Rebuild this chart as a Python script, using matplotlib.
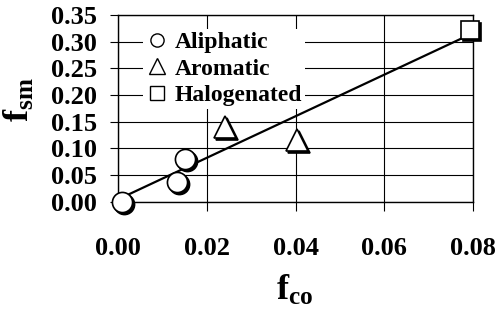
import matplotlib
matplotlib.use("Agg")
import matplotlib.pyplot as plt
from matplotlib.lines import Line2D
from matplotlib.transforms import offset_copy

plt.rcParams['font.family'] = ['Liberation Serif', 'DejaVu Serif']
plt.rcParams['font.weight'] = 'bold'
plt.rcParams['mathtext.fontset'] = 'custom'
plt.rcParams['mathtext.rm'] = 'Liberation Serif:bold'
plt.rcParams['mathtext.bf'] = 'Liberation Serif:bold'
plt.rcParams['mathtext.it'] = 'Liberation Serif:bold'

# data
aliphatic_x = [0.001, 0.0132, 0.0151]
aliphatic_y = [0.000, 0.0375, 0.080]
aromatic_x = [0.0241, 0.0403]
aromatic_y = [0.140, 0.115]
halogen_x = [0.0792]
halogen_y = [0.322]
fit_x = [0.001, 0.0797]
fit_y = [0.008, 0.315]
xticks = [0.00, 0.02, 0.04, 0.06, 0.08]
yticks = [0.00, 0.05, 0.10, 0.15, 0.20, 0.25, 0.30, 0.35]

fig = plt.figure(figsize=(4.98, 3.13), dpi=100)
ax = fig.add_axes([0.237, 0.356, 0.713, 0.596])
ax.set_xlim(0, 0.08)
ax.set_ylim(0, 0.35)
ax.set_xticks(xticks)
ax.set_yticks(yticks)
ax.set_xticklabels([f"{v:.2f}" for v in xticks])
ax.set_yticklabels([f"{v:.2f}" for v in yticks])
ax.grid(True, color='black', linewidth=0.8)
ax.set_axisbelow(True)
for s in ax.spines.values():
    s.set_linewidth(1.0)
ax.tick_params(axis='both', labelsize=19, direction='out', width=0.8)
ax.tick_params(axis='y', length=6, pad=9)
ax.tick_params(axis='x', length=6.5, pad=19)
for lab in ax.get_xticklabels() + ax.get_yticklabels():
    lab.set_fontweight('bold')

ax.plot(fit_x, fit_y, color='black', linewidth=1.6, zorder=3)

shadow = offset_copy(ax.transData, fig=fig, x=2, y=-2, units='dots')
ms = 14.5
for xs, ys, m, size in [(aliphatic_x, aliphatic_y, 'o', ms), (aromatic_x, aromatic_y, '^', ms + 2), (halogen_x, halogen_y, 's', ms - 1)]:
    ax.plot(xs, ys, linestyle='none', marker=m, markersize=size, markerfacecolor='black',
            markeredgecolor='black', markeredgewidth=1.2, transform=shadow, zorder=4, clip_on=False)
    ax.plot(xs, ys, linestyle='none', marker=m, markersize=size, markerfacecolor='white',
            markeredgecolor='black', markeredgewidth=1.2, zorder=5, clip_on=False)

handles = [
    Line2D([], [], linestyle='none', marker='o', markersize=9.5, markerfacecolor='white', markeredgecolor='black', markeredgewidth=1.0),
    Line2D([], [], linestyle='none', marker='^', markersize=11, markerfacecolor='white', markeredgecolor='black', markeredgewidth=1.0),
    Line2D([], [], linestyle='none', marker='s', markersize=9.5, markerfacecolor='white', markeredgecolor='black', markeredgewidth=1.0),
]
leg = ax.legend(handles, ['Aliphatic', 'Aromatic', 'Halogenated'], loc='upper left',
                bbox_to_anchor=(143 / 498, 1 - 29 / 313), bbox_transform=fig.transFigure,
                frameon=True, fancybox=False, edgecolor='none', facecolor='white', framealpha=1,
                prop={'size': 17, 'weight': 'bold'}, handlelength=1.0, handletextpad=0.25,
                labelspacing=0.22, borderpad=0.1, borderaxespad=0)
leg.set_zorder(6)

ax.set_xlabel(r'$\mathrm{f_{co}}$', fontsize=26)
ax.set_ylabel(r'$\mathrm{f_{sm}}$', fontsize=26)
ax.xaxis.set_label_coords(295 / 498, 1 - 274 / 313, transform=fig.transFigure)
ax.yaxis.set_label_coords(37 / 498, 1 - 100 / 313, transform=fig.transFigure)

fig.savefig('out.png', dpi=100)
